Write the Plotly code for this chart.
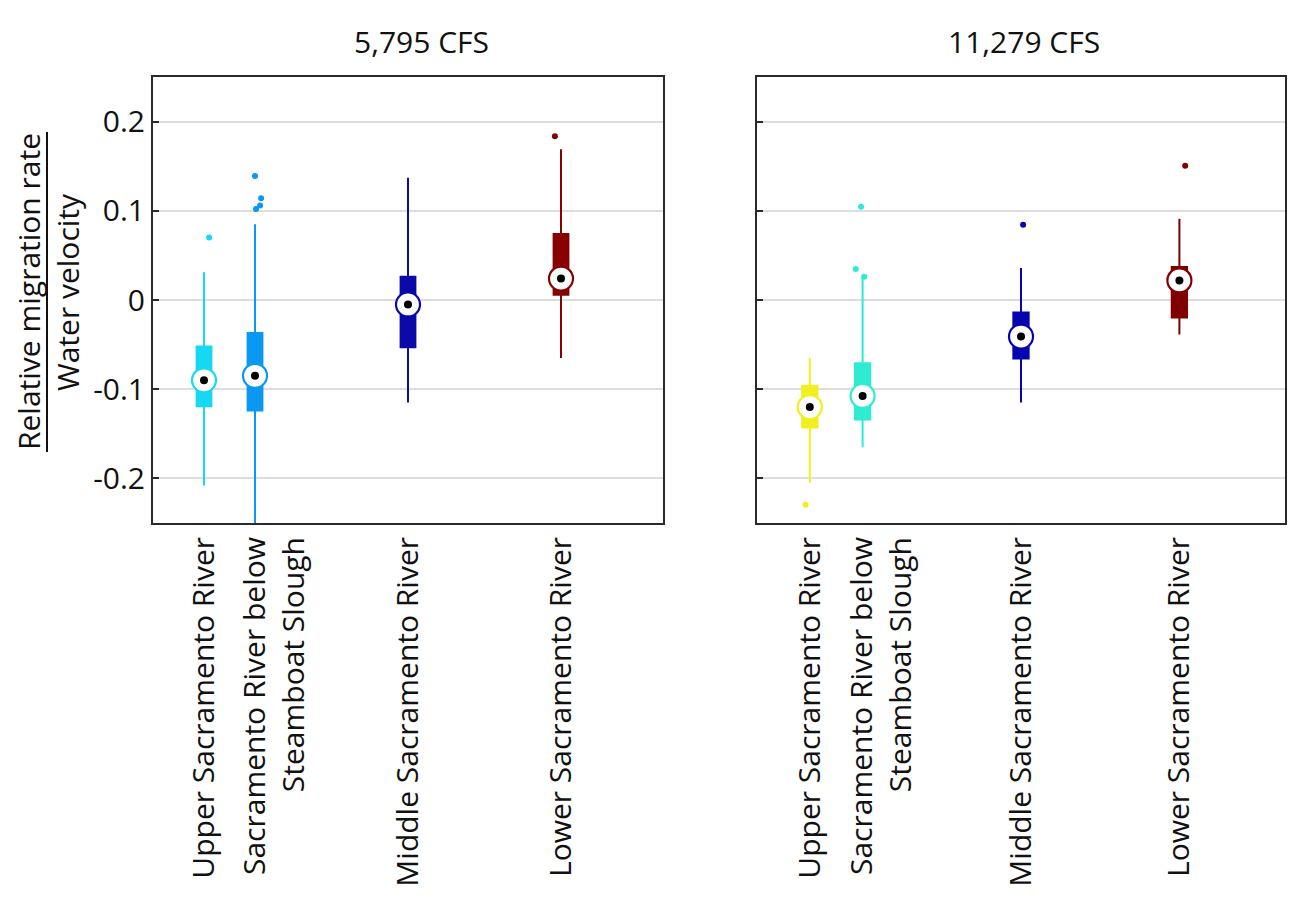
import plotly.graph_objects as go

# ---------------- data ----------------
categories = ["Upper Sacramento River",
              " <br>Sacramento River below<br>Steamboat Slough",
              "Middle Sacramento River",
              "Lower Sacramento River"]
cat_pos = [1, 2, 5, 8]
y_tickvals = [-0.2, -0.1, 0, 0.1, 0.2]
y_ticktext = ["-0.2", "-0.1", "0", "0.1", "0.2"]
panel_titles = ["5,795 CFS", "11,279 CFS"]

# 5,795 CFS
upper_5795 = [0.031, 0.085, 0.137, 0.169]
q3_5795 = [-0.052, -0.037, 0.026, 0.074]
median_5795 = [-0.090, -0.085, -0.005, 0.024]
q1_5795 = [-0.119, -0.124, -0.053, 0.006]
lower_5795 = [-0.208, -0.27, -0.115, -0.065]
outliers_5795 = [[0.070], [0.139, 0.114, 0.106, 0.102], [], [0.1835]]
jitter_5795 = [[0.10], [0.0, 0.12, 0.10, 0.02], [], [-0.12]]
colors_5795 = ["#17D8F2", "#0A98F2", "#0A0AA8", "#880000"]

# 11,279 CFS
upper_11279 = [-0.065, 0.025, 0.036, 0.091]
q3_11279 = [-0.096, -0.071, -0.014, 0.037]
median_11279 = [-0.120, -0.1075, -0.041, 0.022]
q1_11279 = [-0.143, -0.134, -0.0655, -0.0195]
lower_11279 = [-0.205, -0.165, -0.115, -0.0386]
outliers_11279 = [[-0.2296], [0.1045, 0.0348, 0.0262], [0.0843], [0.1506]]
jitter_11279 = [[-0.08], [-0.03, -0.13, 0.03], [0.04], [0.11]]
colors_11279 = ["#F0F020", "#2EEBD2", "#0505B0", "#800000"]

FONT = "Open Sans"
FS = 30
W, H = 1314, 898
OFF = 8  # page body margin


def px(x):
    return (x - OFF) / W


def py(y):
    return 1 - (y - OFF) / H


fig = go.Figure()

panels = [
    ("x", "y", upper_5795, q3_5795, median_5795, q1_5795, lower_5795,
     outliers_5795, jitter_5795, colors_5795),
    ("x2", "y2", upper_11279, q3_11279, median_11279, q1_11279, lower_11279,
     outliers_11279, jitter_11279, colors_11279),
]

for xa, ya, up, q3, med, q1, lo, outs, jit, cols in panels:
    for i, pos in enumerate(cat_pos):
        c = cols[i]
        fig.add_trace(go.Box(
            x=[pos], q1=[q1[i]], median=[med[i]], q3=[q3[i]],
            lowerfence=[lo[i]], upperfence=[up[i]],
            width=0.29, whiskerwidth=0, boxpoints=False,
            fillcolor=c, line=dict(color=c, width=2),
            xaxis=xa, yaxis=ya, showlegend=False, hoverinfo="skip"))
        if outs[i]:
            fig.add_trace(go.Scatter(
                x=[pos + j for j in jit[i]], y=outs[i], mode="markers",
                marker=dict(color=c, size=6),
                xaxis=xa, yaxis=ya, showlegend=False, hoverinfo="skip"))
        fig.add_trace(go.Scatter(
            x=[pos], y=[med[i]], mode="markers",
            marker=dict(symbol="circle", size=24, color="white",
                        line=dict(color=c, width=2.2)),
            xaxis=xa, yaxis=ya, showlegend=False, hoverinfo="skip"))
        fig.add_trace(go.Scatter(
            x=[pos], y=[med[i]], mode="markers",
            marker=dict(symbol="circle", size=8, color="black"),
            xaxis=xa, yaxis=ya, showlegend=False, hoverinfo="skip"))

x1_dom = [px(153), px(663)]
x2_dom = [px(757), px(1285)]
y_dom = [py(523), py(77)]

axis_line = dict(showline=True, linecolor="#2a2a2a", linewidth=2, mirror=True,
                 automargin=False)

xcommon = dict(range=[0, 10], tickvals=cat_pos, ticktext=categories,
               tickangle=-90, ticks="", showgrid=False, zeroline=False,
               tickfont=dict(family=FONT, size=FS, color="#111"), **axis_line)
ycommon = dict(range=[-0.25, 0.25], tickvals=y_tickvals, ticks="inside",
               ticklen=6, tickwidth=1.5, tickcolor="#2a2a2a",
               showgrid=True, gridcolor="#dddddd", gridwidth=2, zeroline=False,
               **axis_line)

fig.update_layout(
    width=W, height=H,
    margin=dict(l=0, r=0, t=0, b=0),
    paper_bgcolor="white", plot_bgcolor="white",
    boxmode="overlay",
    font=dict(family=FONT, size=FS, color="#111"),
    xaxis=dict(domain=x1_dom, anchor="y", **xcommon),
    xaxis2=dict(domain=x2_dom, anchor="y2", **xcommon),
    yaxis=dict(domain=y_dom, anchor="x", ticktext=y_ticktext,
               tickfont=dict(family=FONT, size=FS, color="#111"), **ycommon),
    yaxis2=dict(domain=y_dom, anchor="x2", showticklabels=False, **ycommon),
)

# panel titles
for title, cx in zip(panel_titles, [421, 1024]):
    fig.add_annotation(text=title, x=px(cx), y=py(42),
                       xref="paper", yref="paper", showarrow=False,
                       xanchor="center", yanchor="middle",
                       font=dict(family=FONT, size=FS, color="#111"))

# y-axis label as a fraction
fig.add_annotation(text="Relative migration rate", x=px(29), y=py(292),
                   xref="paper", yref="paper", showarrow=False, textangle=-90,
                   xanchor="center", yanchor="middle",
                   font=dict(family=FONT, size=FS, color="#111"))
fig.add_annotation(text="Water velocity", x=px(68), y=py(292),
                   xref="paper", yref="paper", showarrow=False, textangle=-90,
                   xanchor="center", yanchor="middle",
                   font=dict(family=FONT, size=FS, color="#111"))
fig.add_shape(type="line", xref="paper", yref="paper",
              x0=px(47), x1=px(47), y0=py(132), y1=py(452),
              line=dict(color="#111", width=2))

fig.write_html("out.html")
